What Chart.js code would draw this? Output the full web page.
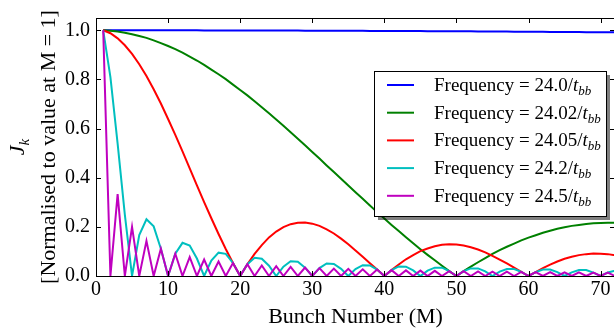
<!DOCTYPE html>
<html>
<head>
<meta charset="utf-8">
<script src="https://cdn.jsdelivr.net/npm/chart.js@4"></script>
<style>
  html, body { margin: 0; padding: 0; background: #fff; overflow: hidden; }
  #wrap { position: relative; width: 620px; height: 333px; }
</style>
</head>
<body>
<div id="wrap"><canvas id="jkChart"></canvas></div>
<script>
// bunch number M (x values)
const bunchNumber = [1,2,3,4,5,6,7,8,9,10,11,12,13,14,15,16,17,18,19,20,21,22,23,24,25,26,27,28,29,30,31,32,33,34,35,36,
  37,38,39,40,41,42,43,44,45,46,47,48,49,50,51,52,53,54,55,56,57,58,59,60,61,62,63,64,65,66,67,68,69,70,71,72];

// legend names (frequency in units of 1/t_bb)
const freqNames = ['24.0', '24.02', '24.05', '24.2', '24.5'];
const lineColours = ['#0000ff', '#008000', '#ff0000', '#00bfbf', '#bf00bf'];

// J_k normalised to value at M = 1
const jkFreq240 = [1.0000,1.0000,1.0000,1.0000,1.0000,0.9999,0.9999,0.9999,0.9999,0.9998,0.9998,0.9998,0.9997,0.9997,0.9996,0.9996,
  0.9995,0.9995,0.9994,0.9993,0.9993,0.9992,0.9991,0.9991,0.9990,0.9989,0.9988,0.9987,0.9986,0.9985,0.9984,0.9983,0.9982,0.9981,
  0.9980,0.9979,0.9977,0.9976,0.9975,0.9974,0.9972,0.9971,0.9970,0.9968,0.9967,0.9965,0.9964,0.9962,0.9961,0.9959,0.9957,0.9956,
  0.9954,0.9952,0.9950,0.9948,0.9947,0.9945,0.9943,0.9941,0.9939,0.9937,0.9935,0.9933,0.9931,0.9928,0.9926,0.9924,0.9922,0.9919,
  0.9917,0.9915];
const jkFreq2402 = [1,0.998,0.995,0.990,0.984,0.977,0.969,0.959,0.948,0.936,0.923,0.909,0.893,0.877,0.859,0.840,0.821,0.801,0.779,
  0.757,0.735,0.711,0.687,0.662,0.637,0.611,0.585,0.559,0.532,0.505,0.478,0.450,0.423,0.396,0.368,0.341,0.314,0.287,0.260,0.234,
  0.208,0.183,0.158,0.133,0.109,0.086,0.064,0.042,0.020,0,0.020,0.038,0.056,0.073,0.090,0.105,0.119,0.132,0.145,0.156,0.166,0.176,
  0.184,0.192,0.198,0.204,0.208,0.212,0.215,0.216,0.217,0.217];
const jkFreq2405 = [1,0.988,0.967,0.939,0.904,0.862,0.814,0.760,0.702,0.639,0.574,0.507,0.438,0.369,0.301,0.235,0.171,0.110,0.053,
  0,0.048,0.090,0.126,0.157,0.181,0.199,0.211,0.217,0.218,0.213,0.204,0.190,0.173,0.152,0.129,0.104,0.078,0.052,0.026,0,0.024,
  0.047,0.068,0.085,0.101,0.112,0.121,0.127,0.129,0.128,0.124,0.117,0.108,0.096,0.082,0.067,0.051,0.034,0.017,0,0.016,0.032,
  0.046,0.059,0.070,0.078,0.085,0.089,0.092,0.091,0.089,0.084];
const jkFreq242 = [1,0.809,0.539,0.250,0,0.167,0.231,0.202,0.111,0,0.091,0.135,0.124,0.071,0,0.063,0.095,0.090,0.053,0,0.048,0.074,
  0.070,0.042,0,0.038,0.060,0.058,0.034,0,0.032,0.051,0.049,0.029,0,0.028,0.044,0.043,0.026,0,0.024,0.039,0.038,0.023,0,0.022,
  0.034,0.034,0.020,0,0.020,0.031,0.031,0.019,0,0.018,0.028,0.028,0.017,0,0.016,0.026,0.026,0.016,0,0.015,0.024,0.024,0.014,0,
  0.014,0.022];
const jkFreq245 = [1,0,0.333,0,0.200,0,0.143,0,0.111,0,0.091,0,0.077,0,0.067,0,0.059,0,0.053,0,0.048,0,0.043,0,0.040,0,0.037,0,
  0.034,0,0.032,0,0.030,0,0.029,0,0.027,0,0.026,0,0.024,0,0.023,0,0.022,0,0.021,0,0.020,0,0.020,0,0.019,0,0.018,0,0.018,0,0.017,
  0,0.016,0,0.016,0,0.015,0,0.015,0,0.014,0,0.014,0];

const seriesList = [jkFreq240, jkFreq2402, jkFreq2405, jkFreq242, jkFreq245];

// tick values
const xTickValues = [0, 10, 20, 30, 40, 50, 60, 70];
const yTickValues = [0, 0.2, 0.4, 0.6, 0.8, 1.0];

const serif = "'Liberation Serif', 'Times New Roman', serif";

// frame, inward ticks, axis titles and legend
const decorations = {
  id: 'decorations',
  afterDatasetsDraw(chart) {
    const ctx = chart.ctx;
    const a = chart.chartArea;
    const xs = chart.scales.x, ys = chart.scales.y;
    ctx.save();
    ctx.strokeStyle = '#000';
    ctx.lineWidth = 1;
    ctx.strokeRect(Math.round(a.left) + 0.5, Math.round(a.top) + 0.5, Math.round(a.right - a.left), Math.round(a.bottom - a.top));

    const tickLen = 5;
    ctx.beginPath();
    xTickValues.forEach(v => {
      let px = Math.round(xs.getPixelForValue(v)) + 0.5;
      ctx.moveTo(px, a.bottom); ctx.lineTo(px, a.bottom - tickLen);
      ctx.moveTo(px, a.top); ctx.lineTo(px, a.top + tickLen);
    });
    yTickValues.forEach(v => {
      let py = Math.round(ys.getPixelForValue(v)) + 0.5;
      ctx.moveTo(a.left, py); ctx.lineTo(a.left + tickLen, py);
      ctx.moveTo(a.right, py); ctx.lineTo(a.right - tickLen, py);
    });
    ctx.stroke();

    // x axis title
    ctx.fillStyle = '#000';
    ctx.font = '22px ' + serif;
    ctx.textAlign = 'center';
    ctx.textBaseline = 'alphabetic';
    ctx.fillText('Bunch Number (M)', (a.left + 615) / 2, 323);

    // y axis title, two lines
    let midY = (a.top + a.bottom) / 2;
    ctx.save();
    ctx.translate(55, midY);
    ctx.rotate(-Math.PI / 2);
    ctx.fillText('[Normalised to value at M = 1]', 0, 0);
    ctx.restore();

    ctx.save();
    ctx.translate(24, midY);
    ctx.rotate(-Math.PI / 2);
    ctx.textAlign = 'left';
    ctx.font = 'italic 22px ' + serif;
    let wJ = ctx.measureText('J').width;
    ctx.font = 'italic 15px ' + serif;
    let wk = ctx.measureText('k').width;
    let x0 = -(wJ + wk) / 2;
    ctx.font = 'italic 22px ' + serif;
    ctx.fillText('J', x0, 0);
    ctx.font = 'italic 15px ' + serif;
    ctx.fillText('k', x0 + wJ, 5);
    ctx.restore();

    // legend box with shadow
    const lx = 374, ly = 71, lw = 232, lh = 145;
    ctx.fillStyle = 'rgba(0,0,0,0.5)';
    ctx.fillRect(lx + 4, ly + 4, lw, lh);
    ctx.fillStyle = '#fff';
    ctx.fillRect(lx, ly, lw, lh);
    ctx.strokeStyle = '#000';
    ctx.strokeRect(lx + 0.5, ly + 0.5, lw, lh);

    freqNames.forEach((name, i) => {
      let rowY = 85 + i * 27.7;
      ctx.strokeStyle = lineColours[i];
      ctx.lineWidth = 2;
      ctx.beginPath();
      ctx.moveTo(387, rowY); ctx.lineTo(414, rowY);
      ctx.stroke();

      ctx.fillStyle = '#000';
      ctx.textAlign = 'left';
      let tx = 434, by = rowY + 6;
      let main = 'Frequency = ' + name + '/';
      ctx.font = '19px ' + serif;
      ctx.fillText(main, tx, by);
      tx += ctx.measureText(main).width;
      ctx.font = 'italic 19px ' + serif;
      ctx.fillText('t', tx, by);
      tx += ctx.measureText('t').width;
      ctx.font = 'italic 13px ' + serif;
      ctx.fillText('bb', tx, by + 4);
    });
    ctx.restore();
  }
};

new Chart(document.getElementById('jkChart'), {
  type: 'line',
  data: {
    datasets: seriesList.map((vals, i) => ({
      label: 'Frequency = ' + freqNames[i] + '/t_bb',
      data: bunchNumber.map((m, j) => ({x: m, y: vals[j]})),
      borderColor: lineColours[i],
      backgroundColor: lineColours[i],
      borderWidth: 2,
      pointRadius: 0,
      tension: 0,
      fill: false,
      order: seriesList.length - i
    }))
  },
  options: {
    responsive: true,
    maintainAspectRatio: false,
    animation: false,
    layout: { padding: { top: 11, right: 5, left: 0, bottom: 0 } },
    plugins: { legend: { display: false }, tooltip: { enabled: false } },
    scales: {
      x: {
        type: 'linear',
        min: 0,
        max: 72,
        grid: { display: false, drawTicks: false },
        border: { display: false },
        afterBuildTicks: s => { s.ticks = xTickValues.map(v => ({value: v})); },
        afterFit: s => { s.height = 57; },
        ticks: {
          color: '#000',
          padding: 2,
          maxRotation: 0,
          autoSkip: false,
          font: { family: serif, size: 20 },
          callback: v => String(v)
        }
      },
      y: {
        min: 0,
        max: 1.05,
        grid: { display: false, drawTicks: false },
        border: { display: false },
        afterBuildTicks: s => { s.ticks = yTickValues.map(v => ({value: v})); },
        afterFit: s => { s.width = 96; },
        ticks: {
          color: '#000',
          padding: 6,
          font: { family: serif, size: 20 },
          callback: v => v.toFixed(1)
        }
      }
    }
  },
  plugins: [decorations]
});
</script>
</body>
</html>
